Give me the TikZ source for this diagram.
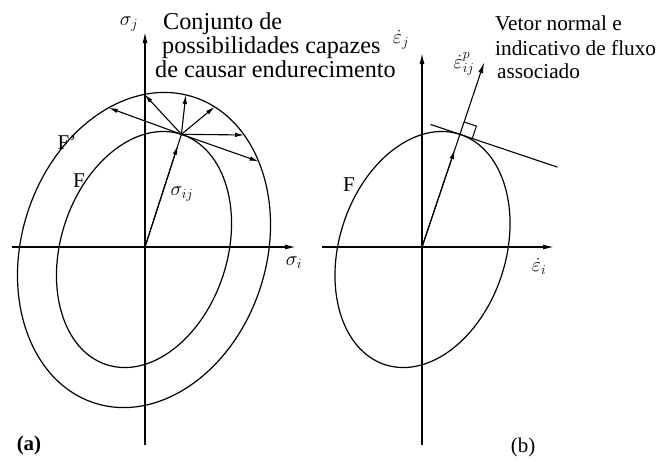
\RequirePackage{fix-cm}
\documentclass[tikz,border=0pt]{standalone}
\usepackage{fontspec}
\setmainfont{Liberation Serif}
\usetikzlibrary{arrows.meta,calc,intersections}
\begin{document}
\begin{tikzpicture}[x=1pt,y=1pt,
  axis/.style={line width=1.3pt,-{Latex[length=11pt,width=5pt]}},
  curve/.style={line width=1.2pt},
  arr/.style={line width=1.1pt,-{Latex[length=9pt,width=4.5pt]}},
  plain/.style={line width=1.1pt},
  txta/.style={anchor=base west,inner sep=0pt,font=\fontsize{24.2}{26}\selectfont},
  txtb/.style={anchor=base west,inner sep=0pt,font=\fontsize{21.3}{24}\selectfont},
  mlab/.style={inner sep=0pt,font=\fontsize{20}{22}\selectfont},
  flab/.style={inner sep=0pt,font=\fontsize{21}{24}\selectfont},
  plab/.style={inner sep=0pt,font=\fontsize{21}{24}\selectfont}]
\useasboundingbox (0,0) rectangle (660,-461);
\fill[white] (0,0) rectangle (660,-461);
% ---------- panel (a)
\coordinate (Oa) at (145,-247);
\coordinate (aTop) at (145,-32);
\coordinate (aBot) at (145,-445);
\coordinate (aLeft) at (12,-247);
\coordinate (aRight) at (296,-247);
\coordinate (Ca) at (144,-250);
\coordinate (Cai) at (144,-249.5);
\draw[axis] (aBot) -- (aTop);
\draw[axis] (aLeft) -- (aRight);
\draw[curve,name path=outerE,rotate around={-18:(Ca)}] (Ca) ellipse [x radius=122.3, y radius=160.8];
\draw[curve,rotate around={-18:(Cai)}] (Cai) ellipse [x radius=83.2, y radius=121.1];
\coordinate (P) at ($(Cai)+(72:121.1)$);
\draw[plain] (Oa) -- (P);
\draw[arr] (Oa) -- ($(Oa)!0.9!(P)$);
\foreach \i/\ex/\ey in {1/112/-109,2/145/-95,3/186/-93,4/218/-104,5/249/-135,6/263/-163}{
  \coordinate (E\i) at (\ex,\ey);
  \path[name path=ray\i] (P) -- ($(P)!5!(E\i)$);
  \path[name intersections={of=outerE and ray\i, by={T\i}}];
  \draw[arr] (P) -- (T\i);
}
\node[mlab] (sj) at (129,-24) {$\sigma_j$};
\node[mlab] (si) at (294,-263) {$\sigma_i$};
\node[mlab] (sij) at (182,-194) {$\sigma_{ij}$};
\node[flab] (Fp) at (67,-143) {F'};
\node[flab] (Fa) at (79,-181) {F};
\node[plab] (la) at (29,-445) {\textbf{(a)}};
\node[txta] (ta1) at (163,-29) {Conjunto de};
\node[txta] (ta2) at (162,-53) {possibilidades capazes};
\node[txta] (ta3) at (155,-77) {de causar endurecimento};
% ---------- panel (b)
\coordinate (Ob) at (422,-247);
\coordinate (bTop) at (422,-53);
\coordinate (bBot) at (422,-445);
\coordinate (bLeft) at (322,-247);
\coordinate (bRight) at (554,-247);
\coordinate (Cb) at (422.5,-249.5);
\draw[axis] (bBot) -- (bTop);
\draw[axis] (bLeft) -- (bRight);
\draw[curve,rotate around={-18:(Cb)}] (Cb) ellipse [x radius=83.2, y radius=121.1];
\coordinate (Q) at ($(Cb)+(72:121.1)$);
\coordinate (Nb) at ($(Ob)!1.64!(Q)$);
\draw[plain] (Ob) -- (Q);
\draw[arr] (Ob) -- ($(Ob)!0.86!(Q)$);
\draw[axis,line width=1.1pt] (Q) -- (Nb);
\coordinate (tL) at ($(Q)!31pt!90:(Nb)$);
\coordinate (tR) at ($(Q)!103pt!-90:(Nb)$);
\draw[plain] (tL) -- (tR);
\coordinate (s1) at ($(Q)!13pt!(Nb)$);
\coordinate (s2) at ($(Q)!13pt!-90:(Nb)$);
\coordinate (s3) at ($(s1)+(s2)-(Q)$);
\draw[line width=1pt] (s1) -- (s3) -- (s2);
\node[mlab] (ej) at (401,-40) {$\dot{\varepsilon}_j$};
\node[mlab] (ei) at (539,-266) {$\dot{\varepsilon}_i$};
\node[mlab] (epij) at (464,-64) {$\dot{\varepsilon}^p_{ij}$};
\node[flab] (Fb) at (349,-185) {F};
\node[plab] (lb) at (523,-447) {(b)};
\node[txtb] (tb1) at (495,-30) {Vetor normal e};
\node[txtb] (tb2) at (495,-55) {indicativo de fluxo};
\node[txtb] (tb3) at (497,-78) {associado};
\end{tikzpicture}
\end{document}
